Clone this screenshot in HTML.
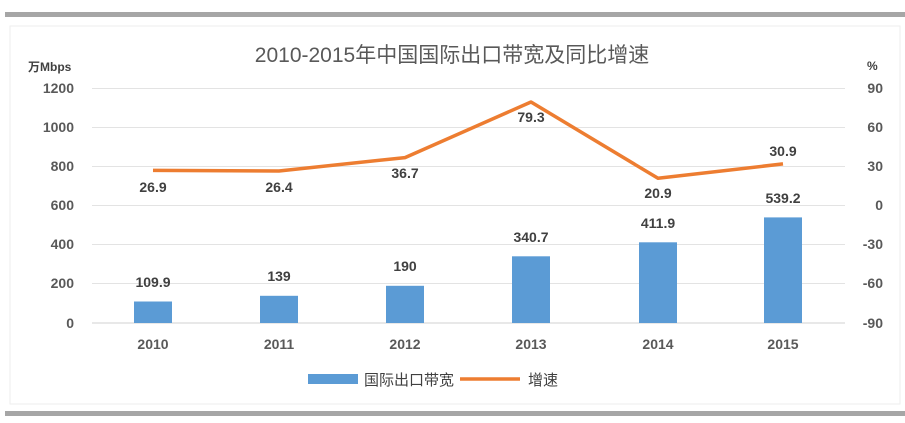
<!DOCTYPE html>
<html><head><meta charset="utf-8"><style>body{margin:0;background:#fff}svg{display:block}</style></head>
<body>
<svg width="905" height="423" xmlns="http://www.w3.org/2000/svg" font-family="'Liberation Sans','Noto Sans CJK SC',sans-serif">
<rect width="905" height="423" fill="#fff"/>
<rect x="5" y="12" width="900" height="5" fill="#a6a6a6"/>
<rect x="5" y="411" width="900" height="5" fill="#a6a6a6"/>
<rect x="10" y="26" width="890" height="378" fill="none" stroke="#eeeeee"/>
<text x="452" y="62" font-size="21" fill="#595959" text-anchor="middle">2010-2015年中国国际出口带宽及同比增速</text>
<text x="28" y="71" font-size="12" fill="#404040" font-weight="bold">万Mbps</text>
<text x="867" y="70" font-size="12" fill="#404040" font-weight="bold">%</text>
<g stroke="#e3e3e3" stroke-width="1">
<line x1="92" x2="845" y1="88.5" y2="88.5"/><line x1="92" x2="845" y1="127.5" y2="127.5"/>
<line x1="92" x2="845" y1="166.5" y2="166.5"/><line x1="92" x2="845" y1="205.5" y2="205.5"/>
<line x1="92" x2="845" y1="244.5" y2="244.5"/><line x1="92" x2="845" y1="283.5" y2="283.5"/>
</g>
<line x1="92" x2="845" y1="323" y2="323" stroke="#d0d0d0"/>
<g font-size="14" fill="#595959" text-anchor="end" font-weight="bold">
<text x="74" y="93">1200</text><text x="74" y="132">1000</text><text x="74" y="171">800</text>
<text x="74" y="210">600</text><text x="74" y="249">400</text><text x="74" y="288">200</text><text x="74" y="328">0</text>
</g>
<g font-size="14" fill="#595959" text-anchor="end" font-weight="bold">
<text x="883" y="93">90</text><text x="883" y="132">60</text><text x="883" y="171">30</text>
<text x="883" y="210">0</text><text x="883" y="249">-30</text><text x="883" y="288">-60</text><text x="883" y="328">-90</text>
</g>
<g fill="#5b9bd5">
<rect x="134" y="301.5" width="38" height="21.5"/>
<rect x="260" y="295.8" width="38" height="27.2"/>
<rect x="386" y="285.8" width="38" height="37.2"/>
<rect x="512" y="256.3" width="38" height="66.7"/>
<rect x="639" y="242.3" width="38" height="80.7"/>
<rect x="764" y="217.4" width="38" height="105.6"/>
</g>
<polyline fill="none" stroke="#ed7d31" stroke-width="3.5" stroke-linejoin="round" points="153,170.4 279,171 405,157.6 531,102 658,178.3 783,163.9"/>
<g font-size="14" fill="#404040" text-anchor="middle" font-weight="bold">
<text x="153" y="287">109.9</text><text x="279" y="281">139</text><text x="405" y="271">190</text>
<text x="531" y="242">340.7</text><text x="658" y="228">411.9</text><text x="783" y="203">539.2</text>
<text x="153" y="192">26.9</text><text x="279" y="192">26.4</text><text x="405" y="178">36.7</text>
<text x="531" y="122">79.3</text><text x="658" y="198">20.9</text><text x="783" y="156">30.9</text>
</g>
<g font-size="14" fill="#595959" text-anchor="middle" font-weight="bold">
<text x="153" y="349">2010</text><text x="279" y="349">2011</text><text x="405" y="349">2012</text>
<text x="531" y="349">2013</text><text x="658" y="349">2014</text><text x="783" y="349">2015</text>
</g>
<rect x="308" y="374" width="50" height="10" fill="#5b9bd5"/>
<text x="364" y="385" font-size="15" fill="#404040">国际出口带宽</text>
<line x1="460" x2="520" y1="379" y2="379" stroke="#ed7d31" stroke-width="3.5"/>
<text x="528" y="385" font-size="15" fill="#404040">增速</text>
</svg>
</body></html>
